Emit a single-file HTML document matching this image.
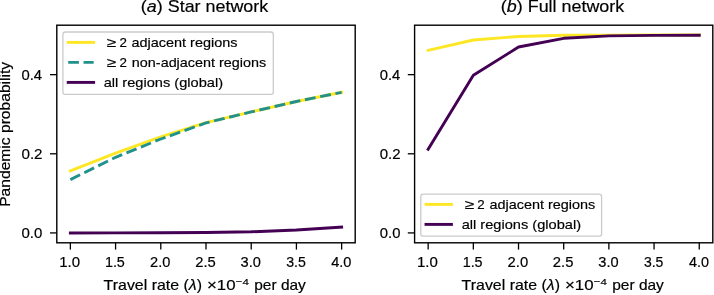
<!DOCTYPE html><html><head><meta charset="utf-8"><style>html,body{margin:0;padding:0;background:#fff;width:714px;height:295px;overflow:hidden}svg{display:block;will-change:transform}text{font-family:"Liberation Sans",sans-serif;fill:#000;stroke:#000;stroke-width:0.18px}</style></head><body>
<svg width="714" height="295" viewBox="0 0 714 295">
<rect width="714" height="295" fill="#fff"/>
<polyline points="70.36,170.90 115.58,153.10 160.79,136.80 206.00,122.70 251.21,111.90 296.42,101.50 341.64,92.30" fill="none" stroke="#fde725" stroke-width="2.9" stroke-linejoin="round" stroke-linecap="square"/>
<polyline points="70.36,179.60 115.58,157.30 160.79,139.00 206.00,122.90 251.21,111.90 296.42,101.50 341.64,92.30" fill="none" stroke="#21918c" stroke-width="2.9" stroke-linejoin="round" stroke-linecap="butt" stroke-dasharray="10.85 4.7"/>
<polyline points="70.36,233.00 115.58,232.90 160.79,232.70 206.00,232.50 251.21,231.80 296.42,230.00 341.64,227.10" fill="none" stroke="#440154" stroke-width="2.9" stroke-linejoin="round" stroke-linecap="square"/>
<rect x="56.80" y="25.20" width="298.40" height="217.60" fill="none" stroke="#000" stroke-width="1.4" stroke-linejoin="miter"/>
<line x1="70.36" y1="242.80" x2="70.36" y2="249.60" stroke="#000" stroke-width="1.3"/>
<line x1="115.58" y1="242.80" x2="115.58" y2="249.60" stroke="#000" stroke-width="1.3"/>
<line x1="160.79" y1="242.80" x2="160.79" y2="249.60" stroke="#000" stroke-width="1.3"/>
<line x1="206.00" y1="242.80" x2="206.00" y2="249.60" stroke="#000" stroke-width="1.3"/>
<line x1="251.21" y1="242.80" x2="251.21" y2="249.60" stroke="#000" stroke-width="1.3"/>
<line x1="296.42" y1="242.80" x2="296.42" y2="249.60" stroke="#000" stroke-width="1.3"/>
<line x1="341.64" y1="242.80" x2="341.64" y2="249.60" stroke="#000" stroke-width="1.3"/>
<line x1="50.00" y1="232.91" x2="56.80" y2="232.91" stroke="#000" stroke-width="1.3"/>
<line x1="50.00" y1="153.78" x2="56.80" y2="153.78" stroke="#000" stroke-width="1.3"/>
<line x1="50.00" y1="74.65" x2="56.80" y2="74.65" stroke="#000" stroke-width="1.3"/>
<polyline points="428.15,50.30 473.34,40.00 518.52,36.50 563.70,35.30 608.88,35.10 654.06,35.00 699.25,35.00" fill="none" stroke="#fde725" stroke-width="2.9" stroke-linejoin="round" stroke-linecap="square"/>
<polyline points="428.15,149.30 473.34,75.30 518.52,47.00 563.70,38.30 608.88,35.90 654.06,35.40 699.25,35.20" fill="none" stroke="#440154" stroke-width="2.9" stroke-linejoin="round" stroke-linecap="square"/>
<rect x="414.60" y="25.20" width="298.20" height="217.60" fill="none" stroke="#000" stroke-width="1.4" stroke-linejoin="miter"/>
<line x1="428.15" y1="242.80" x2="428.15" y2="249.60" stroke="#000" stroke-width="1.3"/>
<line x1="473.34" y1="242.80" x2="473.34" y2="249.60" stroke="#000" stroke-width="1.3"/>
<line x1="518.52" y1="242.80" x2="518.52" y2="249.60" stroke="#000" stroke-width="1.3"/>
<line x1="563.70" y1="242.80" x2="563.70" y2="249.60" stroke="#000" stroke-width="1.3"/>
<line x1="608.88" y1="242.80" x2="608.88" y2="249.60" stroke="#000" stroke-width="1.3"/>
<line x1="654.06" y1="242.80" x2="654.06" y2="249.60" stroke="#000" stroke-width="1.3"/>
<line x1="699.25" y1="242.80" x2="699.25" y2="249.60" stroke="#000" stroke-width="1.3"/>
<line x1="407.80" y1="232.91" x2="414.60" y2="232.91" stroke="#000" stroke-width="1.3"/>
<line x1="407.80" y1="153.78" x2="414.60" y2="153.78" stroke="#000" stroke-width="1.3"/>
<line x1="407.80" y1="74.65" x2="414.60" y2="74.65" stroke="#000" stroke-width="1.3"/>
<rect x="62.90" y="32.00" width="210.40" height="62.40" rx="2.5" ry="2.5" fill="#fff" fill-opacity="0.8" stroke="#cbcbcb" stroke-width="1.3"/>
<line x1="68.20" y1="42.40" x2="93.65" y2="42.40" stroke="#fde725" stroke-width="2.9" stroke-linecap="square"/>
<line x1="68.20" y1="62.40" x2="93.65" y2="62.40" stroke="#21918c" stroke-width="2.9" stroke-dasharray="10.73 4.64"/>
<line x1="68.20" y1="82.40" x2="93.65" y2="82.40" stroke="#440154" stroke-width="2.9" stroke-linecap="square"/>
<rect x="420.80" y="194.20" width="180.80" height="42.00" rx="2.5" ry="2.5" fill="#fff" fill-opacity="0.8" stroke="#cbcbcb" stroke-width="1.3"/>
<line x1="426.00" y1="204.40" x2="451.45" y2="204.40" stroke="#fde725" stroke-width="2.9" stroke-linecap="square"/>
<line x1="426.00" y1="224.40" x2="451.45" y2="224.40" stroke="#440154" stroke-width="2.9" stroke-linecap="square"/>
<text x="140.89" y="11.60" font-size="16.40" textLength="127.35" lengthAdjust="spacingAndGlyphs">(<tspan font-style="italic">a</tspan>) Star network</text>
<text x="500.89" y="11.60" font-size="16.40" textLength="123.33" lengthAdjust="spacingAndGlyphs">(<tspan font-style="italic">b</tspan>) Full network</text>
<text x="21.44" y="237.98" font-size="14.10" textLength="20.87" lengthAdjust="spacingAndGlyphs">0.0</text>
<text x="21.43" y="158.81" font-size="14.10" textLength="21.14" lengthAdjust="spacingAndGlyphs">0.2</text>
<text x="21.44" y="79.63" font-size="14.10" textLength="20.58" lengthAdjust="spacingAndGlyphs">0.4</text>
<text x="59.28" y="266.90" font-size="14.10" textLength="20.89" lengthAdjust="spacingAndGlyphs">1.0</text>
<text x="104.92" y="266.90" font-size="14.10" textLength="19.95" lengthAdjust="spacingAndGlyphs">1.5</text>
<text x="150.11" y="266.90" font-size="14.10" textLength="20.30" lengthAdjust="spacingAndGlyphs">2.0</text>
<text x="195.22" y="266.90" font-size="14.10" textLength="20.56" lengthAdjust="spacingAndGlyphs">2.5</text>
<text x="240.60" y="266.90" font-size="14.10" textLength="20.33" lengthAdjust="spacingAndGlyphs">3.0</text>
<text x="286.22" y="266.90" font-size="14.10" textLength="19.65" lengthAdjust="spacingAndGlyphs">3.5</text>
<text x="331.16" y="266.90" font-size="14.10" textLength="20.26" lengthAdjust="spacingAndGlyphs">4.0</text>
<text x="379.78" y="237.98" font-size="14.10" textLength="20.61" lengthAdjust="spacingAndGlyphs">0.0</text>
<text x="379.77" y="158.81" font-size="14.10" textLength="20.88" lengthAdjust="spacingAndGlyphs">0.2</text>
<text x="379.79" y="79.63" font-size="14.10" textLength="20.57" lengthAdjust="spacingAndGlyphs">0.4</text>
<text x="416.98" y="266.90" font-size="14.10" textLength="20.88" lengthAdjust="spacingAndGlyphs">1.0</text>
<text x="462.67" y="266.90" font-size="14.10" textLength="19.93" lengthAdjust="spacingAndGlyphs">1.5</text>
<text x="507.64" y="266.90" font-size="14.10" textLength="20.58" lengthAdjust="spacingAndGlyphs">2.0</text>
<text x="552.81" y="266.90" font-size="14.10" textLength="20.59" lengthAdjust="spacingAndGlyphs">2.5</text>
<text x="598.27" y="266.90" font-size="14.10" textLength="20.30" lengthAdjust="spacingAndGlyphs">3.0</text>
<text x="643.92" y="266.90" font-size="14.10" textLength="19.41" lengthAdjust="spacingAndGlyphs">3.5</text>
<text x="688.90" y="266.90" font-size="14.10" textLength="20.01" lengthAdjust="spacingAndGlyphs">4.0</text>
<text x="10.20" y="206.78" font-size="14.20" textLength="144.95" lengthAdjust="spacingAndGlyphs" transform="rotate(-90 10.20 206.78)">Pandemic probability</text>
<text x="103.62" y="289.70" font-size="14.20" textLength="98.34" lengthAdjust="spacingAndGlyphs">Travel rate (<tspan font-style="italic">λ</tspan>)</text>
<text x="207.02" y="289.70" font-size="14.20" textLength="28.56" lengthAdjust="spacingAndGlyphs">×10</text>
<text x="235.71" y="284.50" font-size="9.80" textLength="13.14" lengthAdjust="spacingAndGlyphs">−4</text>
<text x="254.24" y="289.70" font-size="14.20" textLength="51.62" lengthAdjust="spacingAndGlyphs">per day</text>
<text x="461.62" y="289.70" font-size="14.20" textLength="98.34" lengthAdjust="spacingAndGlyphs">Travel rate (<tspan font-style="italic">λ</tspan>)</text>
<text x="565.02" y="289.70" font-size="14.20" textLength="28.56" lengthAdjust="spacingAndGlyphs">×10</text>
<text x="593.71" y="284.50" font-size="9.80" textLength="13.14" lengthAdjust="spacingAndGlyphs">−4</text>
<text x="612.24" y="289.70" font-size="14.20" textLength="51.62" lengthAdjust="spacingAndGlyphs">per day</text>
<text x="106.88" y="47.00" font-size="13.50" textLength="9.49" lengthAdjust="spacingAndGlyphs">≥</text>
<text x="119.44" y="47.00" font-size="13.50" textLength="7.45" lengthAdjust="spacingAndGlyphs">2</text>
<text x="131.43" y="47.00" font-size="13.50" textLength="106.06" lengthAdjust="spacingAndGlyphs">adjacent regions</text>
<text x="106.88" y="67.00" font-size="13.50" textLength="9.49" lengthAdjust="spacingAndGlyphs">≥</text>
<text x="119.44" y="67.00" font-size="13.50" textLength="7.45" lengthAdjust="spacingAndGlyphs">2</text>
<text x="131.89" y="67.00" font-size="13.50" textLength="134.22" lengthAdjust="spacingAndGlyphs">non-adjacent regions</text>
<text x="103.68" y="87.00" font-size="13.50" textLength="119.34" lengthAdjust="spacingAndGlyphs">all regions (global)</text>
<text x="464.83" y="209.00" font-size="13.50" textLength="9.52" lengthAdjust="spacingAndGlyphs">≥</text>
<text x="477.20" y="209.00" font-size="13.50" textLength="7.42" lengthAdjust="spacingAndGlyphs">2</text>
<text x="489.41" y="209.00" font-size="13.50" textLength="105.85" lengthAdjust="spacingAndGlyphs">adjacent regions</text>
<text x="461.66" y="229.00" font-size="13.50" textLength="119.38" lengthAdjust="spacingAndGlyphs">all regions (global)</text>
</svg></body></html>
